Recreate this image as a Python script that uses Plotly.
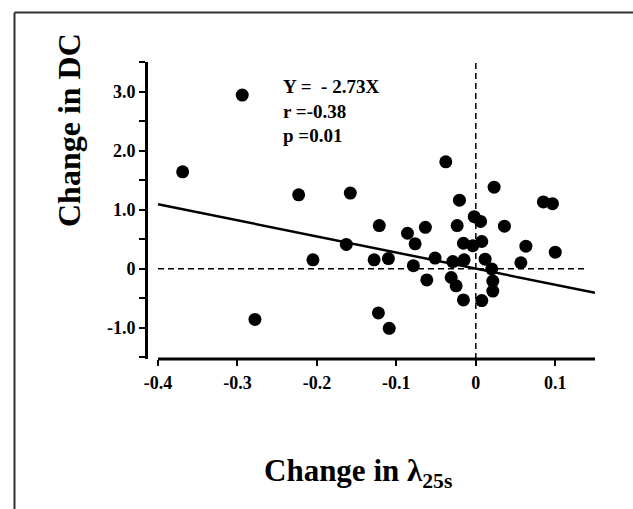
import plotly.graph_objects as go

# Data
change_lambda = [-0.369, -0.294, -0.278, -0.223, -0.205, -0.163, -0.158, -0.128, -0.1215, -0.1226,
                 -0.110, -0.109, -0.086, -0.0786, -0.0764, -0.0635, -0.0617, -0.0513, -0.0378, -0.031,
                 -0.029, -0.0248, -0.0235, -0.0206, -0.0156, -0.0156, -0.0147, -0.0038, -0.002, 0.006,
                 0.0075, 0.0075, 0.0117, 0.020, 0.0214, 0.0214, 0.023, 0.036, 0.0567, 0.063,
                 0.085, 0.0965, 0.100]
change_dc = [1.64, 2.94, -0.86, 1.25, 0.15, 0.41, 1.28, 0.15, 0.73, -0.75,
             0.17, -1.01, 0.60, 0.05, 0.42, 0.70, -0.19, 0.18, 1.81, -0.15,
             0.12, -0.29, 0.73, 1.16, 0.43, -0.53, 0.15, 0.39, 0.88, 0.80,
             0.46, -0.54, 0.16, -0.005, -0.21, -0.38, 1.38, 0.72, 0.10, 0.38,
             1.13, 1.10, 0.28]
slope = -2.73
fit_x = [-0.4, 0.15]
x_tickvals = [-0.4, -0.3, -0.2, -0.1, 0, 0.1]
x_ticktext = ["-0.4", "-0.3", "-0.2", "-0.1", "0", "0.1"]
y_tickvals = [-1.0, 0, 1.0, 2.0, 3.0]
y_ticktext = ["-1.0", "0", "1.0", "2.0", "3.0"]
stats_text = "Y =\u00a0 - 2.73X<br>r =-0.38<br>p =0.01"

SERIF = "Liberation Serif, Times New Roman, serif"

L, R, T, B = 148, 38, 62, 150
W, H = 633, 509
pw, ph = W - L - R, H - T - B


def px_x(p):
    return (p - L) / pw


def px_y(p):
    return (H - B - p) / ph


fig = go.Figure()
fig.add_trace(go.Scatter(x=fit_x, y=[slope * v for v in fit_x], mode="lines",
                         line=dict(color="black", width=2.5), hoverinfo="skip"))
fig.add_trace(go.Scatter(x=change_lambda, y=change_dc, mode="markers",
                         marker=dict(color="black", size=13, line=dict(width=0))))

# dashed reference lines
fig.add_shape(type="line", x0=-0.4, x1=0.14, y0=0, y1=0, xref="x", yref="y",
              line=dict(color="black", width=1.5, dash="6px,4px"))
fig.add_shape(type="line", x0=0, x1=0, y0=0, y1=1, xref="x", yref="paper",
              line=dict(color="black", width=1.5, dash="6px,4px"))
# x axis line (detached from y axis)
fig.add_shape(type="line", x0=-0.4, x1=0.15, y0=0, y1=0, xref="x", yref="paper",
              line=dict(color="black", width=3))
# frame (top and left edges of the figure box)
fig.add_shape(type="line", x0=px_x(14.5), x1=px_x(640), y0=px_y(12.5), y1=px_y(12.5),
              xref="paper", yref="paper", line=dict(color="#333", width=2))
fig.add_shape(type="line", x0=px_x(14.5), x1=px_x(14.5), y0=px_y(520), y1=px_y(12.5),
              xref="paper", yref="paper", line=dict(color="#333", width=2))

fig.add_annotation(text=stats_text, x=-0.2452, y=3.29, xref="x", yref="y",
                   xanchor="left", yanchor="top", align="left", showarrow=False,
                   font=dict(family=SERIF, size=19, color="black", weight="bold"))
fig.add_annotation(text="Change in DC", x=px_x(69), y=px_y(130), xref="paper", yref="paper",
                   xanchor="center", yanchor="middle", showarrow=False, textangle=-90,
                   font=dict(family=SERIF, size=32, color="black", weight="bold"))
fig.add_annotation(text="Change in \u03bb<sub>25s</sub>", x=px_x(358), y=px_y(473),
                   xref="paper", yref="paper", xanchor="center", yanchor="middle",
                   showarrow=False,
                   font=dict(family=SERIF, size=31, color="black", weight="bold"))

fig.update_layout(
    width=W, height=H, margin=dict(l=L, r=R, t=T, b=B),
    paper_bgcolor="white", plot_bgcolor="white", showlegend=False,
    xaxis=dict(range=[-0.4126, 0.15], showgrid=False, zeroline=False, showline=False,
               tickvals=x_tickvals, ticktext=x_ticktext, ticks="outside", ticklen=6,
               tickwidth=2, tickcolor="black", ticklabelstandoff=1,
               tickfont=dict(family=SERIF, size=18, color="black", weight="bold")),
    yaxis=dict(range=[-1.53, 3.5], showgrid=False, zeroline=False, showline=True,
               linecolor="black", linewidth=3,
               tickvals=y_tickvals, ticktext=y_ticktext, ticks="outside", ticklen=6,
               tickwidth=2, tickcolor="black",
               minor=dict(tick0=-1.5, dtick=0.5, ticks="outside", ticklen=6,
                          tickwidth=2, tickcolor="black", showgrid=False),
               tickfont=dict(family=SERIF, size=18, color="black", weight="bold")),
)

fig.write_html("out.html", config={"displayModeBar": False},
               post_script="document.body.style.margin='0';")
